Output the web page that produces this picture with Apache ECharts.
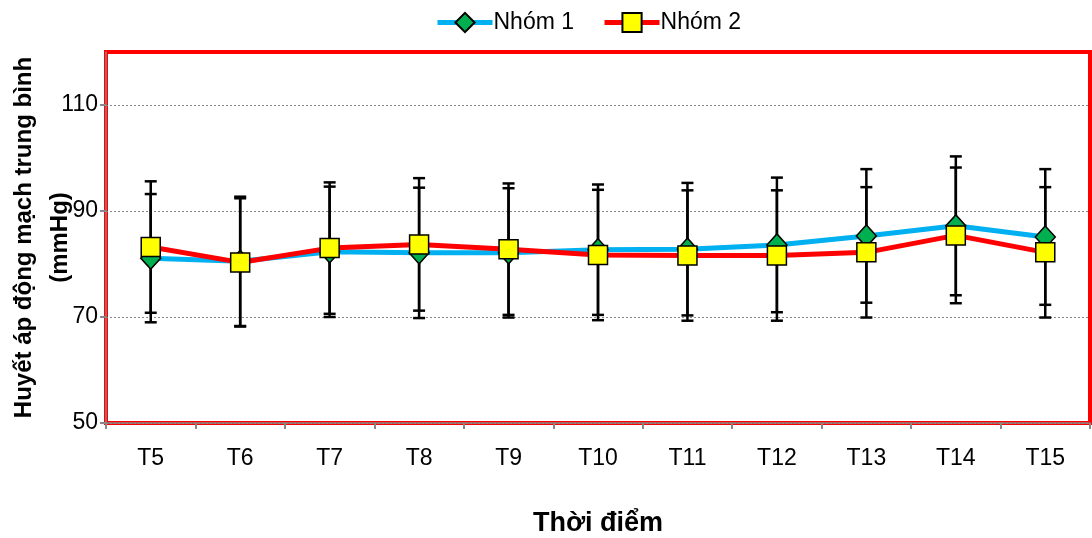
<!DOCTYPE html>
<html>
<head>
<meta charset="utf-8">
<script src="https://cdn.jsdelivr.net/npm/echarts@6/dist/echarts.min.js"></script>
<style>
	html, body { margin: 0; padding: 0; background: #fff; }
	#chart_box { width: 1092px; height: 538px; }
</style>
</head>
<body>
<div id="chart_box"></div>
<script>
/*thời điểm*/
var categories = ['T5', 'T6', 'T7', 'T8', 'T9', 'T10', 'T11', 'T12', 'T13', 'T14', 'T15'];
/*Nhóm 1: trung bình và độ lệch chuẩn*/
var nhom1Mean = [81.1, 80.5, 82.3, 82.1, 82.1, 82.7, 82.8, 83.6, 85.3, 87.2, 85.1];
var nhom1Sd = [12.1, 12.2, 12.3, 12.3, 12.2, 12.3, 12.5, 12.7, 12.6, 13.1, 12.8];
/*Nhóm 2*/
var nhom2Mean = [83.2, 80.3, 83.0, 83.7, 82.8, 81.7, 81.6, 81.6, 82.2, 85.4, 82.2];
var nhom2Sd = [12.4, 12.1, 12.4, 12.5, 12.4, 12.3, 12.3, 12.3, 12.3, 12.8, 12.3];
/*nhãn trục tung*/
var yTicks = [50, 70, 90, 110];

var font = 'Liberation Sans';

function errData(mean, sd) {
	var arr = [];
	for (var i = 0; i < mean.length; i++) {
		arr.push([i, mean[i] - sd[i], mean[i] + sd[i]]);
	}
	return arr;
}

function renderErrorBar(params, api) {
	var x = api.value(0);
	var low = api.coord([x, api.value(1)]);
	var high = api.coord([x, api.value(2)]);
	var half = 6;
	var style = { stroke: '#000', lineWidth: 2.5 };
	return {
		type: 'group',
		children: [
			{ type: 'line', shape: { x1: high[0], y1: high[1], x2: low[0], y2: low[1] }, style: style },
			{ type: 'line', shape: { x1: high[0] - half, y1: high[1], x2: high[0] + half, y2: high[1] }, style: style },
			{ type: 'line', shape: { x1: low[0] - half, y1: low[1], x2: low[0] + half, y2: low[1] }, style: style }
		]
	};
}

var myChart = echarts.init(document.getElementById('chart_box'));
var option = {
	animation: false,
	textStyle: { fontFamily: font },
	legend: {
		data: ['Nhóm 1', 'Nhóm 2'],
		left: 430,
		top: 6,
		itemWidth: 55,
		itemHeight: 24,
		itemGap: 28,
		lineStyle: { width: 5 },
		textStyle: { fontFamily: font, fontSize: 23, color: '#000', padding: [0, 0, 0, -4] }
	},
	grid: {
		left: 106,
		right: 2,
		top: 52,
		bottom: 115,
		outerBoundsMode: 'none',
		containLabel: false,
		show: true,
		borderColor: '#ff0000',
		borderWidth: 4,
		backgroundColor: '#fff'
	},
	xAxis: {
		type: 'category',
		data: categories,
		boundaryGap: true,
		name: 'Thời điểm',
		nameLocation: 'middle',
		nameGap: 87,
		nameMoveOverlap: false,
		nameTextStyle: { fontFamily: font, fontSize: 27, fontWeight: 'bold', color: '#000' },
		axisLine: { lineStyle: { color: '#888', width: 1.5 } },
		axisTick: { show: true, length: 6, lineStyle: { color: '#888', width: 2 } },
		axisLabel: { fontFamily: font, fontSize: 23, color: '#000', margin: 24 }
	},
	yAxis: {
		type: 'value',
		min: 50,
		max: 120,
		interval: 20,
		name: 'Huyết áp động mạch trung bình\n(mmHg)',
		nameLocation: 'middle',
		nameGap: 28,
		nameMoveOverlap: false,
		nameTextStyle: { fontFamily: font, fontSize: 24, fontWeight: 'bold', color: '#000', lineHeight: 36 },
		axisLine: { show: true, lineStyle: { color: '#888', width: 1.5 } },
		axisTick: { show: true, length: 6, customValues: yTicks, lineStyle: { color: '#888', width: 2 } },
		axisLabel: { fontFamily: font, fontSize: 23, color: '#000', margin: 8, customValues: yTicks },
		splitLine: { show: true, lineStyle: { color: '#888', width: 1, type: [2, 2] } }
	},
	series: [{
		name: 'err1',
		type: 'custom',
		renderItem: renderErrorBar,
		encode: { x: 0, y: [1, 2] },
		data: errData(nhom1Mean, nhom1Sd),
		z: 1,
		silent: true
	}, {
		name: 'err2',
		type: 'custom',
		renderItem: renderErrorBar,
		encode: { x: 0, y: [1, 2] },
		data: errData(nhom2Mean, nhom2Sd),
		z: 1,
		silent: true
	}, {
		name: 'Nhóm 1',
		type: 'line',
		data: nhom1Mean,
		z: 3,
		symbol: 'diamond',
		symbolSize: [20, 22],
		lineStyle: { color: '#00b0f0', width: 5 },
		itemStyle: { color: '#00b050', borderColor: '#000', borderWidth: 1.5 }
	}, {
		name: 'Nhóm 2',
		type: 'line',
		data: nhom2Mean,
		z: 4,
		symbol: 'rect',
		symbolSize: 19,
		lineStyle: { color: '#ff0000', width: 5 },
		itemStyle: { color: '#ffff00', borderColor: '#000', borderWidth: 1.5 }
	}]
};
myChart.setOption(option);
</script>
</body>
</html>
